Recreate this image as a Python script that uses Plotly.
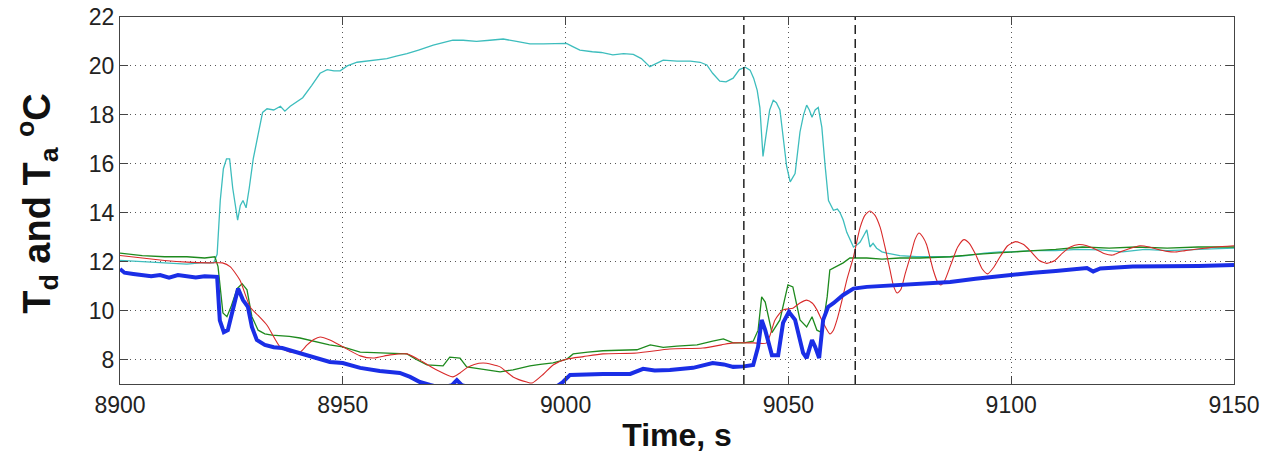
import plotly.graph_objects as go

# ---- data ----
ta_time = [8900, 8905, 8910, 8915, 8918, 8921, 8921.8, 8922.5, 8923.2, 8923.9, 8924.6, 8925.3, 8926.4, 8927,
           8927.6, 8928.3, 8929, 8929.9, 8931, 8932, 8933, 8934.5, 8936, 8937, 8938.2, 8939.5, 8941, 8943,
           8944.9, 8946.5, 8948, 8949.4, 8951, 8953.2, 8956, 8959.9, 8962, 8964.4, 8967, 8970.3, 8972.5,
           8974.7, 8977, 8980, 8983, 8986, 8989, 8992, 8995, 8998.7, 9000.2, 9001.5, 9003.2, 9006, 9008,
           9010.6, 9013, 9015.2, 9017, 9018.9, 9020.5, 9021.9, 9025, 9028, 9030.2, 9031.7, 9033, 9034.6,
           9036, 9037.6, 9039, 9040.3, 9041.4, 9042.2, 9043, 9043.6, 9044.3, 9045.1, 9045.8, 9046.6,
           9047.3, 9048.1, 9048.9, 9049.6, 9050.4, 9051.5, 9052.6, 9053.4, 9054.1, 9054.7, 9055.3, 9056,
           9056.7, 9057.5, 9058.2, 9059, 9060.1, 9061, 9061.6, 9062.3, 9063.1, 9064.6, 9065.5, 9066.1,
           9067, 9067.6, 9068.3, 9069, 9069.8, 9071, 9072.1, 9075, 9078.8, 9082, 9086.3, 9090, 9094,
           9097.5, 9100, 9105, 9110, 9115, 9120, 9125, 9130, 9135, 9140, 9145, 9150]
ta_value = [12.05, 12.0, 11.95, 11.9, 11.95, 11.95, 12.3, 14.5, 15.8, 16.2, 16.2, 15.0, 13.7, 14.3,
            14.5, 14.2, 15.0, 16.2, 17.2, 18.1, 18.25, 18.2, 18.35, 18.15, 18.35, 18.5, 18.7, 19.2,
            19.7, 19.85, 19.8, 19.8, 20.0, 20.15, 20.2, 20.3, 20.4, 20.5, 20.65, 20.85, 20.95,
            21.05, 21.05, 21.0, 21.05, 21.1, 21.0, 20.9, 20.9, 20.9, 20.92, 20.8, 20.65, 20.58, 20.55,
            20.45, 20.5, 20.47, 20.3, 19.97, 20.1, 20.24, 20.2, 20.2, 20.15, 20.04, 19.7, 19.38,
            19.35, 19.5, 19.85, 19.95, 19.83, 19.5, 19.0, 18.3, 16.3, 17.25, 18.2, 18.6,
            18.5, 18.2, 17.0, 15.9, 15.26, 15.6, 17.3, 18.0, 18.4, 18.2, 17.9, 18.2,
            18.3, 17.5, 16.0, 14.5, 14.1, 14.15, 14.0, 13.7, 13.2, 12.6, 12.7, 12.8,
            13.1, 13.3, 12.6, 12.75, 12.55, 12.4, 12.35, 12.25, 12.2, 12.2, 12.2, 12.25, 12.35,
            12.4, 12.4, 12.45, 12.45, 12.5, 12.48, 12.4, 12.5, 12.45, 12.5, 12.52, 12.55]

green_time = [8900, 8905, 8910, 8915, 8919, 8921.3, 8922, 8922.5, 8923.1, 8924, 8925, 8926.3, 8927.4,
              8928.5, 8929.6, 8931, 8932.5, 8934.1, 8936, 8938, 8940.4, 8942.5, 8944.9, 8947, 8950,
              8952, 8953.9, 8957, 8960.6, 8964.4, 8966.5, 8968.9, 8972.5, 8973.5, 8974, 8976.3,
              8977.8, 8980.8, 8985.3, 8988.2, 8992, 8994.3, 8997.2, 9000.3, 9001.7, 9005, 9008.4,
              9012, 9016, 9019, 9021.9, 9025, 9029.5, 9033, 9035.4, 9037.6, 9040, 9042.1, 9043.2,
              9044, 9044.8, 9046.3, 9048.1, 9049.9, 9051, 9052.6, 9054.1, 9055.3, 9056.4, 9057.5,
              9058.7, 9059.3, 9060.9, 9062.3, 9063.8, 9067.6, 9071, 9075, 9079.5, 9086.3, 9092,
              9099.7, 9105, 9110, 9116, 9122, 9128, 9135, 9142, 9150]
green_value = [12.35, 12.25, 12.2, 12.2, 12.15, 12.2, 11.8, 10.8, 9.9, 9.75, 10.2, 10.9, 11.1,
               10.85, 9.75, 9.2, 9.05, 9.0, 8.97, 8.95, 8.88, 8.8, 8.68, 8.6, 8.52,
               8.4, 8.3, 8.28, 8.27, 8.23, 8.0, 7.78, 7.74, 8.0, 8.1, 8.06,
               7.7, 7.62, 7.5, 7.58, 7.74, 7.8, 7.86, 8.02, 8.23, 8.3, 8.36,
               8.38, 8.4, 8.6, 8.5, 8.55, 8.6, 8.75, 8.84, 8.68, 8.68, 8.75, 9.2,
               10.56, 10.35, 9.1, 9.62, 11.05, 10.97, 9.62, 9.33, 9.75, 9.2, 9.1,
               10.56, 11.66, 11.8, 11.95, 12.15, 12.15, 12.1, 12.15, 12.15, 12.2, 12.3,
               12.4, 12.45, 12.5, 12.6, 12.55, 12.6, 12.55, 12.6, 12.6]

red_time = [8900, 8905, 8910, 8915, 8920, 8923, 8924.7, 8926.9, 8929.2, 8931, 8933, 8935.9, 8938.2,
            8940.4, 8942, 8943.5, 8944.9, 8947.1, 8950, 8953.9, 8956.8, 8960.6, 8964.4, 8968, 8971.1,
            8974.7, 8976.3, 8977.8, 8979.5, 8981.5, 8983.5, 8985.3, 8988.2, 8991.3, 8992.5, 8995,
            8997.2, 9000.3, 9004, 9008.4, 9016, 9023.4, 9030.8, 9035, 9037.6, 9042.1, 9045.1, 9047,
            9048.8, 9051, 9052.5, 9054.1, 9055.4, 9056.4, 9057.8, 9059.3, 9060.1, 9060.9, 9062,
            9063.1, 9064.6, 9066.1, 9067.2, 9068.3, 9069.4, 9070.6, 9071.8, 9072.8, 9073.6, 9074.4,
            9075.2, 9076.2, 9077.5, 9078.4, 9079.3, 9080.2, 9081, 9082.5, 9083.4, 9084.2, 9085,
            9086.5, 9088, 9089.4, 9090.6, 9092, 9093.5, 9094.7, 9096, 9097.5, 9099.2, 9101, 9102.8,
            9104.5, 9106.3, 9108, 9109.8, 9111.5, 9113.3, 9115.2, 9117, 9119, 9121, 9122.8, 9124.5,
            9126, 9128.9, 9131, 9133, 9135, 9137.2, 9139, 9141, 9143.5, 9146, 9150]
red_value = [12.25, 12.15, 12.05, 11.98, 11.95, 11.95, 11.8, 11.25, 10.15, 9.8, 9.4, 8.52, 8.3,
             8.3, 8.6, 8.82, 8.92, 8.8, 8.52, 8.15, 8.06, 8.19, 8.23, 7.9, 7.57,
             7.29, 7.45, 7.66, 7.8, 7.86, 7.8, 7.7, 7.29, 7.08, 7.04, 7.4,
             7.78, 8.02, 8.12, 8.23, 8.27, 8.43, 8.47, 8.6, 8.68, 8.68, 8.68, 9.62,
             10.03, 10.1, 10.3, 10.43, 10.3, 10.03, 9.5, 9.05, 9.2, 9.62, 10.4,
             11.25, 12.2, 13.4, 13.9, 14.07, 13.9, 13.4, 12.5, 11.66, 11.0, 10.72,
             10.85, 11.5, 12.3, 12.9, 13.17, 13.0, 12.7, 11.66, 11.2, 11.05, 11.2,
             11.9, 12.6, 12.9, 12.75, 12.3, 11.7, 11.5, 11.75, 12.2, 12.65, 12.82, 12.7,
             12.4, 12.05, 11.93, 12.05, 12.35, 12.6, 12.7, 12.65, 12.5, 12.32, 12.27, 12.4,
             12.5, 12.65, 12.6, 12.5, 12.42, 12.4, 12.45, 12.5, 12.55, 12.6, 12.65]

td_time = [8900, 8901, 8903, 8905, 8907, 8909, 8911, 8913, 8915, 8917, 8919, 8921, 8921.8, 8922.4,
           8923.3, 8924.2, 8925.4, 8926.5, 8927.6, 8928.7, 8929.6, 8930.7, 8932.5, 8934.5, 8936.4,
           8939.5, 8943.4, 8947.1, 8950, 8953.9, 8958.3, 8962.8, 8965.1, 8967.3, 8969.6, 8972,
           8974.5, 8975.6, 8976.7, 8980, 8985, 8990, 8995, 8998, 8999.4, 9001, 9004, 9008.4, 9014.5,
           9017.4, 9020, 9023.4, 9028.6, 9031, 9033, 9035.5, 9037.6, 9040, 9042.1, 9043.2, 9044,
           9044.8, 9046.3, 9047.7, 9048.8, 9050.1, 9051.5, 9053.3, 9054.1, 9055.3, 9056, 9056.9,
           9057.8, 9058.9, 9060.1, 9062.3, 9064.6, 9067.6, 9071, 9075, 9080, 9086.3, 9092, 9099.7,
           9105, 9110, 9114, 9117, 9118.4, 9120, 9127.3, 9135, 9142, 9150]
td_value = [11.7, 11.55, 11.5, 11.45, 11.4, 11.45, 11.35, 11.45, 11.4, 11.35, 11.4, 11.4, 11.38, 9.6,
            9.12, 9.2, 10.15, 10.9, 10.43, 10.15, 9.33, 8.8, 8.6, 8.5, 8.47,
            8.3, 8.1, 7.9, 7.86, 7.66, 7.53, 7.45, 7.29, 7.08, 6.96, 6.85,
            6.95, 7.16, 6.95, 6.8, 6.7, 6.75, 6.8, 6.9, 7.08, 7.37, 7.4, 7.41, 7.41,
            7.62, 7.55, 7.57, 7.66, 7.75, 7.86, 7.8, 7.7, 7.72, 7.78, 8.52, 9.62,
            9.2, 8.18, 8.18, 9.5, 9.95, 9.62, 8.27, 8.06, 8.8, 8.52, 8.06,
            9.62, 10.15, 10.3, 10.64, 10.9, 10.97, 11.0, 11.05, 11.1, 11.17, 11.3, 11.46,
            11.55, 11.62, 11.7, 11.74, 11.6, 11.72, 11.8, 11.8, 11.82, 11.86]

event_times = [9040, 9065]
x_ticks = [8900, 8950, 9000, 9050, 9100, 9150]
y_ticks = [8, 10, 12, 14, 16, 18, 20, 22]

fig = go.Figure()
fig.add_trace(go.Scatter(x=ta_time, y=ta_value, mode="lines",
                         line=dict(color="#3dbdbd", width=1.3)))
fig.add_trace(go.Scatter(x=green_time, y=green_value, mode="lines",
                         line=dict(color="#1e8a1e", width=1.3)))
fig.add_trace(go.Scatter(x=red_time, y=red_value, mode="lines",
                         line=dict(color="#d82a2a", width=1.1, shape="spline", smoothing=0.6)))
fig.add_trace(go.Scatter(x=td_time, y=td_value, mode="lines",
                         line=dict(color="#1a2ee6", width=4)))

for t in event_times:
    fig.add_shape(type="line", xref="x", yref="paper", x0=t, x1=t, y0=0, y1=1,
                  line=dict(color="#222222", width=1.5, dash="9px,5px"))

axis_common = dict(showline=True, linecolor="#444444", linewidth=1.2, mirror="ticks",
                   ticks="inside", ticklen=8, tickcolor="#444444",
                   showgrid=True, gridcolor="#555555", gridwidth=1, griddash="1px,4px",
                   zeroline=False, automargin=False,
                   tickfont=dict(family="Liberation Sans, Arial", size=23, color="#222222"))

fig.update_layout(
    width=1266, height=459,
    margin=dict(l=120, r=32, t=17, b=75),
    plot_bgcolor="white", paper_bgcolor="white",
    showlegend=False,
    xaxis=dict(range=[8900, 9150], tickvals=x_ticks, **axis_common,
               title=dict(text="<b>Time, s</b>", standoff=6,
                          font=dict(family="Liberation Sans, Arial", size=32, color="#111111"))),
    yaxis=dict(range=[7, 22], tickvals=y_ticks, **axis_common),
    annotations=[dict(text="<b>T<sub>d</sub> and T<sub>a</sub> <sup>o</sup>C</b>",
                      xref="paper", yref="paper", x=-0.074, y=0.49,
                      xanchor="center", yanchor="middle", textangle=-90, showarrow=False,
                      font=dict(family="Liberation Sans, Arial", size=38, color="#111111"))],
)

fig.write_html("out.html", config={"displayModeBar": False},
               post_script="document.body.style.margin='0';document.body.style.overflow='hidden';")
